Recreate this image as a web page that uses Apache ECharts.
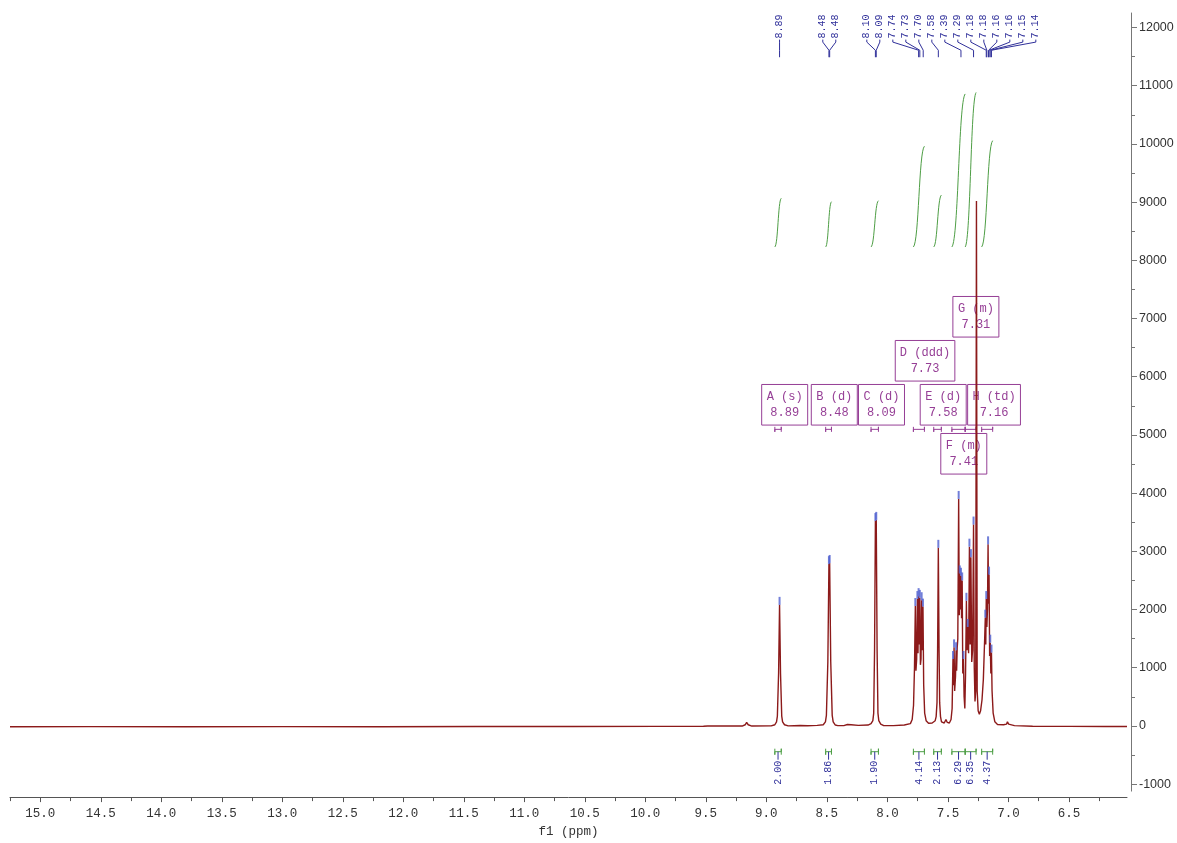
<!DOCTYPE html>
<html><head><meta charset="utf-8">
<script src="https://cdn.jsdelivr.net/npm/echarts@6/dist/echarts.min.js"></script>
<style>html,body{margin:0;padding:0;background:#fff}#c{width:1177px;height:843px}</style>
</head><body><div id="c"></div>
<script>
// ---------------- DATA ----------------
// spectrum trace: [ppm, intensity]
const spectrum = [
 [15.25,-15],[14.6,-12],[13.8,-14],[13.0,-12],[12.2,-13],[11.4,-10],[10.6,-10],[9.9,-8],[9.52,-6],[9.485,-2],[9.475,30],[9.465,-2],
 [9.2,-2],[9.175,20],[9.163,60],[9.15,20],[9.12,-2],
 [8.96,0],[8.93,20],[8.916,70],[8.909,170],[8.899,900],[8.891,2080],[8.883,900],[8.873,170],[8.866,70],[8.85,20],[8.82,0],
 [8.72,8],[8.66,2],[8.58,10],[8.53,20],[8.512,70],[8.504,180],[8.492,1100],[8.483,2780],[8.48,2350],[8.477,2800],[8.468,1100],[8.456,180],[8.448,70],[8.43,15],[8.41,5],
 [8.36,5],[8.33,25],[8.315,50],[8.30,20],[8.24,10],[8.16,15],
 [8.135,40],[8.12,90],[8.113,220],[8.106,1300],[8.099,3520],[8.096,3000],[8.092,3540],[8.085,1300],[8.078,220],[8.071,90],[8.055,30],[8.03,5],
 [7.95,5],[7.86,15],[7.81,40],[7.795,110],
 [7.784,350],[7.776,1000],[7.769,2060],[7.764,950],[7.758,1150],[7.752,2180],[7.747,1250],[7.742,2230],[7.737,1400],[7.732,2200],[7.727,1050],[7.722,1150],[7.717,2160],[7.712,1300],[7.706,2050],[7.700,700],[7.692,220],[7.68,90],[7.66,45],[7.63,50],
 [7.605,90],[7.597,160],[7.590,400],[7.585,1300],[7.579,3060],[7.573,1300],[7.568,400],[7.561,160],[7.553,70],[7.53,50],[7.516,110],[7.505,60],[7.488,50],[7.474,110],
 [7.465,300],[7.458,1150],[7.454,700],[7.449,1350],[7.444,600],[7.437,850],[7.432,1300],[7.428,950],[7.423,1350],[7.418,1500],[7.411,3900],[7.406,1900],[7.402,2620],[7.397,2000],[7.392,2580],[7.387,1850],[7.382,2500],[7.377,900],[7.371,1150],[7.366,500],[7.360,300],[7.354,900],[7.347,2150],[7.342,1300],[7.336,1700],[7.329,1250],[7.322,3080],[7.316,1400],[7.310,2900],[7.303,1100],[7.296,1300],[7.288,3460],[7.282,1000],[7.276,420],[7.270,600],[7.264,9020],[7.258,600],[7.250,260],[7.240,200],[7.230,260],[7.218,450],[7.207,800],
 [7.196,1500],[7.191,1860],[7.187,1400],[7.183,2180],[7.178,1700],[7.173,2000],[7.168,3120],[7.164,2100],[7.160,2600],[7.155,1200],[7.150,1430],[7.145,900],[7.140,1260],[7.135,600],[7.126,220],[7.112,70],[7.09,25],[7.04,20],[7.016,30],[7.008,70],[6.998,30],[6.95,5],[6.8,-5],[6.5,-8],[6.2,-10],[6.02,-10]
];
// picked peak labels (ppm)
const peakLabelPpm = [8.891, 8.483, 8.477, 8.099, 8.092, 7.742, 7.732, 7.704, 7.579, 7.392, 7.288, 7.183, 7.178, 7.164, 7.160, 7.150, 7.140];
// multiplets
const multipletLetters = ['A','B','C','D','E','F','G','H'];
const multipletTypes   = ['s','d','d','ddd','d','m','m','td'];
const multipletShifts  = [8.89, 8.48, 8.09, 7.73, 7.58, 7.41, 7.31, 7.16];
const multipletFrom    = [8.93, 8.51, 8.135, 7.785, 7.617, 7.467, 7.357, 7.221];
const multipletTo      = [8.877, 8.462, 8.074, 7.694, 7.554, 7.357, 7.267, 7.13];
// integrals
const integralValues = [2.00, 1.86, 1.90, 4.14, 2.13, 6.29, 6.35, 4.37];
const integralFrom   = [8.93, 8.51, 8.135, 7.785, 7.617, 7.467, 7.357, 7.221];
const integralTo     = [8.877, 8.462, 8.074, 7.694, 7.554, 7.357, 7.267, 7.13];
// axis ticks
const xTickLabels = [15.0,14.5,14.0,13.5,13.0,12.5,12.0,11.5,11.0,10.5,10.0,9.5,9.0,8.5,8.0,7.5,7.0,6.5];
const xMinorTicks = [15.25,14.75,14.25,13.75,13.25,12.75,12.25,11.75,11.25,10.75,10.25,9.75,9.25,8.75,8.25,7.75,7.25,6.75,6.25];
const yTickLabels = [-1000,0,1000,2000,3000,4000,5000,6000,7000,8000,9000,10000,11000,12000];
const yMinorTicks = [-500,500,1500,2500,3500,4500,5500,6500,7500,8500,9500,10500,11500];

// ---------------- LAYOUT / STYLE ----------------
const X_MIN = 6.02, X_MAX = 15.25, Y_MIN = -1120, Y_MAX = 12250;
const MONO = '"Liberation Mono", "DejaVu Sans Mono", monospace';
const LABEL_COLOR = '#30309a';
const MULT_COLOR = '#963f96';
const INT_COLOR = '#4e9e45';
const LABEL_SPACING = 13;
const LBL_TEXT_BOTTOM = 11810, LBL_B1 = 11750, LBL_B2 = 11610, LBL_END = 11490;
const INT_BASE = 8230, INT_SCALE = 418;
const ROW0_TOP = 5867, BRACKET_Y = 5096, BAR_Y = -443;
const BOX_SHIFT = 5, BOX_H = 40.6;

function layoutLabels(xs, d) {
  const order = xs.map((x, i) => i).sort((a, b) => xs[a] - xs[b]);
  let clusters = order.map(i => ({ sum: xs[i], idx: [i] }));
  let changed = true;
  while (changed) {
    changed = false;
    for (let k = 0; k < clusters.length - 1; k++) {
      const a = clusters[k], b = clusters[k + 1];
      const aEnd = a.sum / a.idx.length + (a.idx.length - 1) * d / 2;
      const bStart = b.sum / b.idx.length - (b.idx.length - 1) * d / 2;
      if (bStart - aEnd < d - 1e-6) {
        clusters.splice(k, 2, { sum: a.sum + b.sum, idx: a.idx.concat(b.idx) });
        changed = true; break;
      }
    }
  }
  const pos = new Array(xs.length);
  clusters.forEach(c => {
    const n = c.idx.length, start = c.sum / n - (n - 1) * d / 2;
    c.idx.forEach((i, j) => { pos[i] = start + j * d; });
  });
  return pos;
}

function layoutBoxes(api) {
  const boxes = multipletShifts.map((s, i) => {
    const t1 = multipletLetters[i] + ' (' + multipletTypes[i] + ')';
    const t2 = s.toFixed(2);
    const w = 6.8 * Math.max(t1.length, t2.length) + 12;
    const cx = api.coord([s, 0])[0] + BOX_SHIFT;
    return { x0: cx - w / 2, x1: cx + w / 2, w, cx, t1, t2 };
  });
  const rowOrder = [0, 1, -1, 2, -2, 3];
  const placed = [];
  boxes.forEach(b => {
    for (const r of rowOrder) {
      if (!placed.some(p => p.row === r && p.x0 < b.x1 - 1 && b.x0 < p.x1 - 1)) { b.row = r; placed.push(b); break; }
    }
  });
  return boxes;
}

const picked = spectrum.filter((p, i) => i > 0 && i < spectrum.length - 1 &&
  p[1] > spectrum[i - 1][1] && p[1] > spectrum[i + 1][1] && p[1] > 500 && p[1] < 6000);

const chart = echarts.init(document.getElementById('c'), null, { renderer: 'canvas' });
const option = {
  animation: false,
  backgroundColor: '#fff',
  grid: { left: 10, right: 50, top: 13, bottom: 47, containLabel: false },
  xAxis: [{
    type: 'value', inverse: true, min: X_MIN, max: X_MAX, position: 'bottom', offset: 6,
    axisLine: { show: true, onZero: false, lineStyle: { color: '#555', width: 1 } },
    axisTick: { show: true, customValues: xTickLabels, length: 5, lineStyle: { color: '#555' } },
    axisLabel: { show: true, customValues: xTickLabels, formatter: v => v.toFixed(1), fontFamily: MONO, fontSize: 12.5, color: '#333', margin: 10 },
    splitLine: { show: false },
    name: 'f1 (ppm)', nameLocation: 'middle', nameGap: 27,
    nameTextStyle: { fontFamily: MONO, fontSize: 12.5, color: '#333' }
  }, {
    type: 'value', inverse: true, min: X_MIN, max: X_MAX, position: 'bottom', offset: 6,
    axisLine: { show: false, onZero: false },
    axisTick: { show: true, customValues: xMinorTicks, length: 4, lineStyle: { color: '#555' } },
    axisLabel: { show: false }, splitLine: { show: false }
  }],
  yAxis: [{
    type: 'value', min: Y_MIN, max: Y_MAX, position: 'right', offset: 4,
    axisLine: { show: true, onZero: false, lineStyle: { color: '#777', width: 1 } },
    axisTick: { show: true, customValues: yTickLabels, length: 6, lineStyle: { color: '#777' } },
    axisLabel: { show: true, customValues: yTickLabels, formatter: v => String(v), fontFamily: '"Liberation Sans", Arial, sans-serif', fontSize: 12.5, color: '#333', margin: 8 },
    splitLine: { show: false }
  }, {
    type: 'value', min: Y_MIN, max: Y_MAX, position: 'right', offset: 4,
    axisLine: { show: false, onZero: false },
    axisTick: { show: true, customValues: yMinorTicks, length: 4, lineStyle: { color: '#777' } },
    axisLabel: { show: false }, splitLine: { show: false }
  }],
  series: [
    {
      type: 'line', data: spectrum, showSymbol: false, symbol: 'none', z: 5,
      lineStyle: { color: '#8c1a1a', width: 1.4 }, silent: true
    },
    {
      type: 'scatter', data: picked, symbol: 'rect', symbolSize: [2, 8], symbolOffset: [0, -4], z: 6,
      itemStyle: { color: '#4f5fd0' }, silent: true
    },
    {
      type: 'custom', z: 4, silent: true,
      data: peakLabelPpm.map(p => [p, 0]),
      renderItem: (params, api) => {
        const xs = peakLabelPpm.map(p => api.coord([p, 0])[0]);
        const pos = layoutLabels(xs, LABEL_SPACING);
        const i = params.dataIndex, lx = pos[i], px = xs[i];
        const y0 = api.coord([0, LBL_TEXT_BOTTOM])[1], y1 = api.coord([0, LBL_B1])[1],
              y2 = api.coord([0, LBL_B2])[1], y3 = api.coord([0, LBL_END])[1];
        return { type: 'group', children: [
          { type: 'text', x: lx, y: y0, rotation: Math.PI / 2,
            style: { text: peakLabelPpm[i].toFixed(2), fill: LABEL_COLOR, fontFamily: MONO, fontSize: 10, align: 'left', verticalAlign: 'middle' } },
          { type: 'polyline', shape: { points: [[lx, y0 + 1], [lx, y1], [px, y2], [px, y3]] },
            style: { stroke: LABEL_COLOR, fill: null, lineWidth: 1 } }
        ] };
      }
    },
    {
      type: 'custom', z: 2, silent: true,
      data: multipletShifts.map(s => [s, 0]),
      renderItem: (params, api) => {
        const boxes = layoutBoxes(api);
        const i = params.dataIndex, b = boxes[i];
        const row0 = api.coord([0, ROW0_TOP])[1];
        const top = b.row >= 0 ? row0 - b.row * 44 : row0 + 49 + (-b.row - 1) * 44;
        const by = api.coord([0, BRACKET_Y])[1];
        const xa = api.coord([multipletFrom[i], 0])[0], xb = api.coord([multipletTo[i], 0])[0];
        return { type: 'group', children: [
          { type: 'rect', shape: { x: b.x0, y: top, width: b.w, height: BOX_H },
            style: { stroke: MULT_COLOR, fill: 'rgba(0,0,0,0)', lineWidth: 1 } },
          { type: 'text', x: b.cx, y: top + BOX_H / 2,
            style: { text: b.t1 + '\n' + b.t2, fill: MULT_COLOR, fontFamily: MONO, fontSize: 12, lineHeight: 16, align: 'center', verticalAlign: 'middle' } },
          { type: 'polyline', shape: { points: [[xa, by - 2.5], [xa, by + 2.5], [xa, by], [xb, by], [xb, by - 2.5], [xb, by + 2.5]] },
            style: { stroke: MULT_COLOR, fill: null, lineWidth: 1 } }
        ] };
      }
    },
    {
      type: 'custom', z: 3, silent: true,
      data: integralValues.map((v, i) => [integralFrom[i], 0]),
      renderItem: (params, api) => {
        const i = params.dataIndex;
        const x0 = api.coord([integralFrom[i], 0])[0], x1 = api.coord([integralTo[i], 0])[0];
        const yb = api.coord([0, INT_BASE])[1], yt = api.coord([0, INT_BASE + integralValues[i] * INT_SCALE])[1];
        const dx = x1 - x0;
        return { type: 'bezierCurve',
          shape: { x1: x0, y1: yb, cpx1: x0 + dx * 0.5, cpy1: yb - (yb - yt) * 0.05, cpx2: x1 - dx * 0.5, cpy2: yt + (yb - yt) * 0.05, x2: x1, y2: yt },
          style: { stroke: INT_COLOR, fill: null, lineWidth: 1 } };
      }
    },
    {
      type: 'custom', z: 3, silent: true,
      data: integralValues.map((v, i) => [integralFrom[i], 0]),
      renderItem: (params, api) => {
        const i = params.dataIndex;
        const x0 = api.coord([integralFrom[i], 0])[0], x1 = api.coord([integralTo[i], 0])[0];
        const y = api.coord([0, BAR_Y])[1], cx = (x0 + x1) / 2;
        return { type: 'group', children: [
          { type: 'polyline', shape: { points: [[x0, y - 3], [x0, y + 3], [x0, y], [x1, y], [x1, y - 3], [x1, y + 3]] },
            style: { stroke: INT_COLOR, fill: null, lineWidth: 1 } },
          { type: 'line', shape: { x1: cx, y1: y, x2: cx, y2: y + 8 }, style: { stroke: LABEL_COLOR, lineWidth: 1 } },
          { type: 'text', x: cx, y: y + 9, rotation: Math.PI / 2,
            style: { text: integralValues[i].toFixed(2), fill: LABEL_COLOR, fontFamily: MONO, fontSize: 10, align: 'right', verticalAlign: 'middle' } }
        ] };
      }
    }
  ]
};
chart.setOption(option);
</script></body></html>
